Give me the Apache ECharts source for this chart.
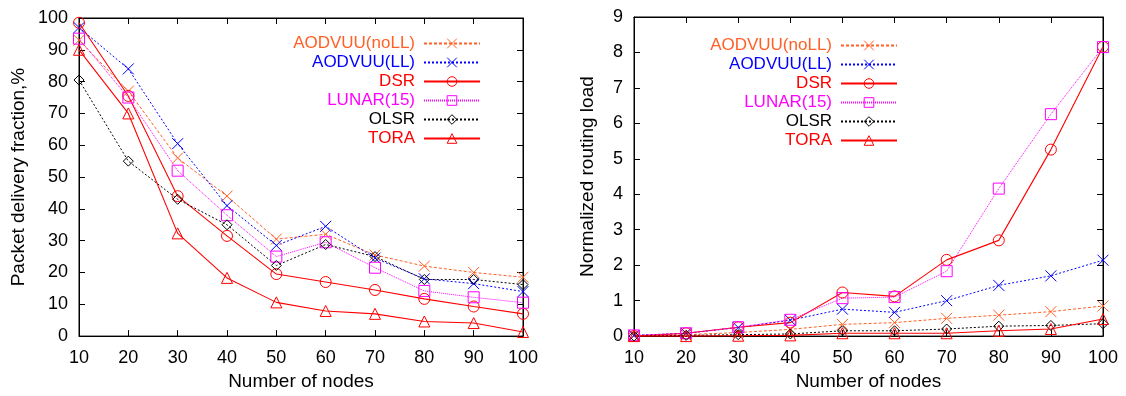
<!DOCTYPE html>
<html>
<head>
<meta charset="utf-8">
<script src="https://cdn.jsdelivr.net/npm/echarts@6/dist/echarts.min.js"></script>
<style>
  html, body { margin: 0; padding: 0; background: #fff; }
  #chart { width: 1126px; height: 396px; }
</style>
</head>
<body>
<div id="chart"></div>
<script>
// x values shared by both plots
const nodes = [10, 20, 30, 40, 50, 60, 70, 80, 90, 100];

// left plot: packet delivery fraction, %
const pdfNoLL = [93, 77, 56, 44, 30.5, 32, 25.5, 22, 20, 18.5];
const pdfLL   = [97, 84, 60.5, 41, 28.5, 34.5, 24.5, 18, 16.5, 14];
const pdfDsr  = [98.5, 75.5, 44, 31.5, 19.5, 17, 14.5, 11.7, 9.3, 7];
const pdfLunar = [93.5, 75, 52, 38, 25, 29.5, 21.5, 14.2, 12.2, 10.5];
const pdfOlsr = [80.5, 55, 43, 35, 22.2, 28.8, 25, 17.8, 17.8, 16.2];
const pdfTora = [90, 70, 32.3, 18.3, 10.6, 7.9, 7, 4.6, 4.1, 1.3];

// right plot: normalized routing load
const nrlNoLL = [0.01, 0.04, 0.1, 0.19, 0.33, 0.38, 0.5, 0.59, 0.69, 0.85];
const nrlLL   = [0.02, 0.08, 0.24, 0.45, 0.76, 0.67, 1.0, 1.43, 1.7, 2.14];
const nrlDsr  = [0, 0.08, 0.25, 0.38, 1.23, 1.12, 2.15, 2.7, 5.26, 8.16];
const nrlLunar = [0.02, 0.08, 0.25, 0.46, 1.07, 1.1, 1.83, 4.16, 6.26, 8.15];
const nrlOlsr = [0, 0.02, 0.04, 0.06, 0.15, 0.15, 0.2, 0.28, 0.3, 0.35];
const nrlTora = [0, 0, 0.01, 0.02, 0.08, 0.08, 0.08, 0.15, 0.2, 0.48];

const pdfTicks = { min: 0, max: 100, interval: 10 };
const nrlTicks = { min: 0, max: 9, interval: 1 };

const FONT = '"Liberation Sans", Arial, Helvetica, sans-serif';

// gnuplot-like open point types
const CROSS = 'path://M0,0L10,10M10,0L0,10';
const CIRCLE = 'path://M10,5A5,5,0,1,1,0,5A5,5,0,1,1,10,5Z';
const SQUARE = 'path://M0,0L10,0L10,10L0,10Z';
const DIAMOND = 'path://M5,0L10,5L5,10L0,5Z';
const TRIANGLE = 'path://M5,0L10,9L0,9Z';

const protocols = [
  { name: 'AODVUU(noLL)', color: '#ff6026', dash: [3, 2], width: 1, symbol: CROSS, size: 11 },
  { name: 'AODVUU(LL)', color: '#0000ff', dash: [2, 2], width: 1, symbol: CROSS, size: 11 },
  { name: 'DSR', color: '#ff0000', dash: 'solid', width: 1.1, symbol: CIRCLE, size: 11 },
  { name: 'LUNAR(15)', color: '#ff00ff', dash: [1, 1], width: 1, symbol: SQUARE, size: 11 },
  { name: 'OLSR', color: '#000000', dash: [2, 2], width: 1, symbol: DIAMOND, size: 10 },
  { name: 'TORA', color: '#ff0000', dash: 'solid', width: 1.1, symbol: TRIANGLE, size: 11 }
];
const pdfValues = [pdfNoLL, pdfLL, pdfDsr, pdfLunar, pdfOlsr, pdfTora];
const nrlValues = [nrlNoLL, nrlLL, nrlDsr, nrlLunar, nrlOlsr, nrlTora];

// axisIdx: 0 -> left plot axes, 2 -> right plot axes (1 and 3 are the mirror axes)
function makeSeries(values, axisIdx) {
  return protocols.map((p, i) => ({
    type: 'line',
    name: p.name,
    xAxisIndex: axisIdx,
    yAxisIndex: axisIdx,
    data: nodes.map((n, k) => [n, values[i][k]]),
    symbol: p.symbol,
    symbolSize: p.size,
    showAllSymbol: true,
    lineStyle: { color: p.color, width: p.width, type: p.dash },
    itemStyle: { color: 'none', borderColor: p.color, borderWidth: 1 },
    emphasis: { disabled: true }
  }));
}

function xAxes(gridIndex, name) {
  const base = {
    type: 'value', gridIndex: gridIndex, min: 10, max: 100, interval: 10,
    splitLine: { show: false },
    axisLine: { show: true, onZero: false, lineStyle: { color: '#000', width: 1 } },
    axisTick: { show: true, inside: true, length: 6, lineStyle: { color: '#000' } }
  };
  return [
    Object.assign({}, base, {
      position: 'bottom',
      name: name, nameLocation: 'middle', nameGap: 32,
      nameTextStyle: { fontSize: 19, fontFamily: FONT, color: '#000' },
      axisLabel: { fontSize: 18, fontFamily: FONT, color: '#000', margin: 13 }
    }),
    Object.assign({}, base, { position: 'top', axisLabel: { show: false } })
  ];
}

function yAxes(gridIndex, ticks, name, gap) {
  const base = {
    type: 'value', gridIndex: gridIndex, min: ticks.min, max: ticks.max, interval: ticks.interval,
    splitLine: { show: false },
    axisLine: { show: true, onZero: false, lineStyle: { color: '#000', width: 1 } },
    axisTick: { show: true, inside: true, length: 6, lineStyle: { color: '#000' } }
  };
  return [
    Object.assign({}, base, {
      position: 'left',
      name: name, nameLocation: 'middle', nameGap: gap, nameRotate: 90,
      nameTextStyle: { fontSize: 19, fontFamily: FONT, color: '#000' },
      axisLabel: { fontSize: 18, fontFamily: FONT, color: '#000', margin: 11 }
    }),
    Object.assign({}, base, { position: 'right', axisLabel: { show: false } })
  ];
}

function legendAt(right, top) {
  return {
    orient: 'vertical', align: 'right', right: right, top: top, padding: 0,
    itemWidth: 56, itemHeight: 12, itemGap: 2, selectedMode: false,
    itemStyle: { borderWidth: 1 },
    textStyle: { fontSize: 17, fontFamily: FONT, lineHeight: 16, padding: [0, 4, 0, 0] },
    data: protocols.map(p => ({ name: p.name, textStyle: { color: p.color } }))
  };
}

const chart = echarts.init(document.getElementById('chart'), null, { renderer: 'canvas' });

const option = {
  animation: false,
  backgroundColor: '#fff',
  grid: [
    { left: 79, top: 18, width: 444, height: 321, show: true, borderColor: '#000', borderWidth: 1, backgroundColor: 'transparent' },
    { left: 634, top: 17, width: 469, height: 321, show: true, borderColor: '#000', borderWidth: 1, backgroundColor: 'transparent' }
  ],
  xAxis: [].concat(xAxes(0, 'Number of nodes'), xAxes(1, 'Number of nodes')),
  yAxis: [].concat(
    yAxes(0, pdfTicks, 'Packet delivery fraction,%', 51),
    yAxes(1, nrlTicks, 'Normalized routing load', 37)
  ),
  legend: [legendAt(645, 35), legendAt(228, 37)],
  series: [].concat(makeSeries(pdfValues, 0), makeSeries(nrlValues, 2))
};

chart.setOption(option);
</script>
</body>
</html>
